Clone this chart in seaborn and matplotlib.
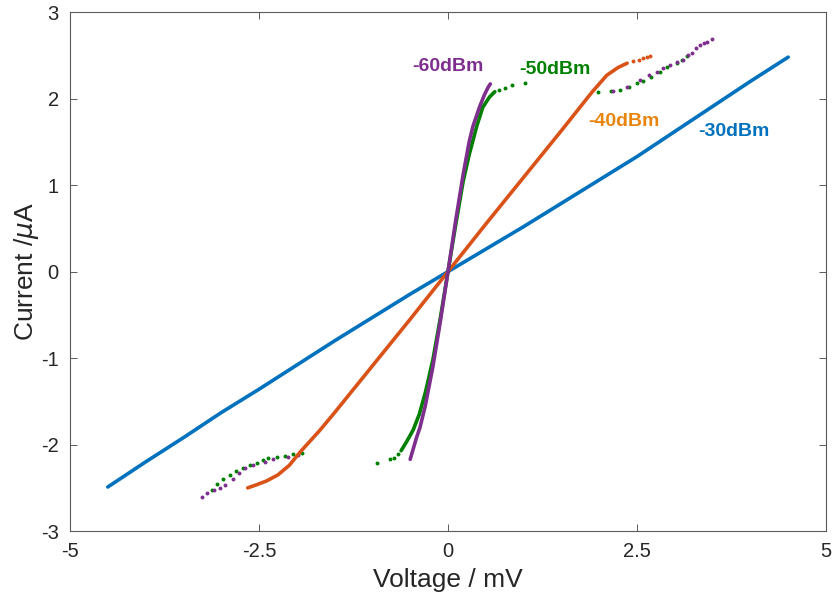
import matplotlib
matplotlib.use("Agg")
import matplotlib.pyplot as plt
import seaborn as sns

# ---- I-V data (voltage in mV, current in uA) ----
# -30 dBm
v30 = [-4.50, -4.00, -3.50, -3.00, -2.50, -2.00, -1.50, -1.00, -0.50, 0.00,
       0.50, 1.00, 1.50, 2.00, 2.50, 3.00, 3.50, 4.00, 4.50]
i30 = [-2.49, -2.20, -1.92, -1.63, -1.36, -1.08, -0.80, -0.53, -0.26, 0.00,
       0.26, 0.52, 0.79, 1.06, 1.33, 1.62, 1.91, 2.20, 2.48]

# -40 dBm
v40 = [-2.65, -2.55, -2.40, -2.25, -2.10, -1.95, -1.70, -1.50, -1.00, -0.50, 0.00,
       0.50, 1.00, 1.50, 1.90, 2.10, 2.25, 2.37]
i40 = [-2.50, -2.47, -2.42, -2.35, -2.24, -2.08, -1.84, -1.63, -1.09, -0.55, 0.00,
       0.55, 1.09, 1.63, 2.07, 2.27, 2.36, 2.41]
v40_tail = [2.45, 2.52, 2.58, 2.63, 2.67]
i40_tail = [2.43, 2.45, 2.47, 2.48, 2.49]

# -50 dBm, central branch
v50 = [-0.62, -0.55, -0.46, -0.38, -0.30, -0.20, -0.10, 0.00,
       0.10, 0.20, 0.28, 0.38, 0.46, 0.55, 0.62]
i50 = [-2.07, -1.97, -1.83, -1.65, -1.40, -1.02, -0.53, 0.00,
       0.53, 1.04, 1.35, 1.68, 1.90, 2.02, 2.08]
v50_tail = [-0.94, -0.77, -0.72, -0.66, 0.68, 0.75, 0.85, 1.02]
i50_tail = [-2.21, -2.17, -2.15, -2.11, 2.10, 2.12, 2.16, 2.18]
# -50 dBm, outer branches
v50_out = [-3.12, -3.06, -2.97, -2.88, -2.80, -2.71, -2.62, -2.53, -2.45, -2.38,
           -2.26, -2.16, -2.05, -1.93,
           1.98, 2.15, 2.28, 2.40, 2.50, 2.58, 2.68, 2.80, 2.90, 3.03, 3.10, 3.16]
i50_out = [-2.52, -2.46, -2.40, -2.35, -2.31, -2.27, -2.24, -2.21, -2.18, -2.16,
           -2.14, -2.13, -2.11, -2.10,
           2.08, 2.09, 2.10, 2.14, 2.18, 2.20, 2.25, 2.31, 2.36, 2.41, 2.45, 2.49]

# -60 dBm, central branch
v60 = [-0.50, -0.46, -0.42, -0.37, -0.30, -0.20, -0.10, 0.00,
       0.10, 0.20, 0.28, 0.33, 0.42, 0.48, 0.53, 0.56]
i60 = [-2.17, -2.05, -1.93, -1.80, -1.55, -1.10, -0.57, 0.00,
       0.58, 1.12, 1.50, 1.68, 1.91, 2.04, 2.13, 2.17]
# -60 dBm, outer branches
v60_out = [-3.25, -3.19, -3.10, -3.02, -2.95, -2.84, -2.76, -2.69, -2.58, -2.42,
           -2.31, -2.12, -1.98,
           2.18, 2.37, 2.54, 2.66, 2.76, 2.85, 2.94, 3.03, 3.11, 3.18, 3.23,
           3.28, 3.33, 3.38, 3.43, 3.49]
i60_out = [-2.60, -2.56, -2.52, -2.50, -2.47, -2.40, -2.33, -2.27, -2.23, -2.20,
           -2.17, -2.14, -2.12,
           2.09, 2.14, 2.22, 2.27, 2.31, 2.35, 2.39, 2.42, 2.45, 2.50, 2.53,
           2.58, 2.62, 2.64, 2.66, 2.69]

labels = ["-60dBm", "-50dBm", "-40dBm", "-30dBm"]
label_pos = [(0.00, 2.37), (1.42, 2.34), (2.33, 1.73), (3.78, 1.62)]

C30, C40, C50, C60 = "#0072BD", "#D95319", "#008000", "#7E2F8E"
label_colors = [C60, C50, "#E8850F", C30]

sns.set_style("ticks")
plt.rcParams["font.family"] = ["Liberation Sans", "DejaVu Sans"]
plt.rcParams["axes.unicode_minus"] = False

fig = plt.figure(figsize=(8.33, 6.07), dpi=100)
ax = fig.add_axes([0.084, 0.125, 0.9076, 0.855])


def dense(v, i, color):
    sns.lineplot(x=v, y=i, ax=ax, color=color, lw=2.6, sort=False,
                 estimator=None, solid_capstyle="round")


def sparse(v, i, color):
    sns.scatterplot(x=v, y=i, ax=ax, color=color, s=8, linewidth=0)


dense(v30, i30, C30)
dense(v40, i40, C40)
sparse(v40_tail, i40_tail, C40)
dense(v50, i50, C50)
sparse(v50_tail, i50_tail, C50)
sparse(v50_out, i50_out, C50)
dense(v60, i60, C60)
sparse(v60_out, i60_out, C60)

for text, (x, y), c in zip(labels, label_pos, label_colors):
    ax.text(x, y, text, color=c, fontsize=14, fontweight="bold",
            ha="center", va="center")

ax.set_xlim(-5, 5)
ax.set_ylim(-3, 3)
ax.set_xticks([-5, -2.5, 0, 2.5, 5])
ax.set_xticklabels(["-5", "-2.5", "0", "2.5", "5"])
ax.set_yticks([-3, -2, -1, 0, 1, 2, 3])
ax.set_xlabel("Voltage / mV", fontsize=19, color="#262626", labelpad=5)
ax.set_ylabel("Current /$\\mu$A", fontsize=19, color="#262626", labelpad=0)

for s in ax.spines.values():
    s.set_visible(True)
    s.set_color("#5a5a5a")
    s.set_linewidth(0.8)
ax.tick_params(direction="in", length=5, width=0.7, color="#5a5a5a",
               labelsize=14.5, labelcolor="#262626", pad=8,
               top=True, right=True)

fig.savefig("out.png", dpi=100)
